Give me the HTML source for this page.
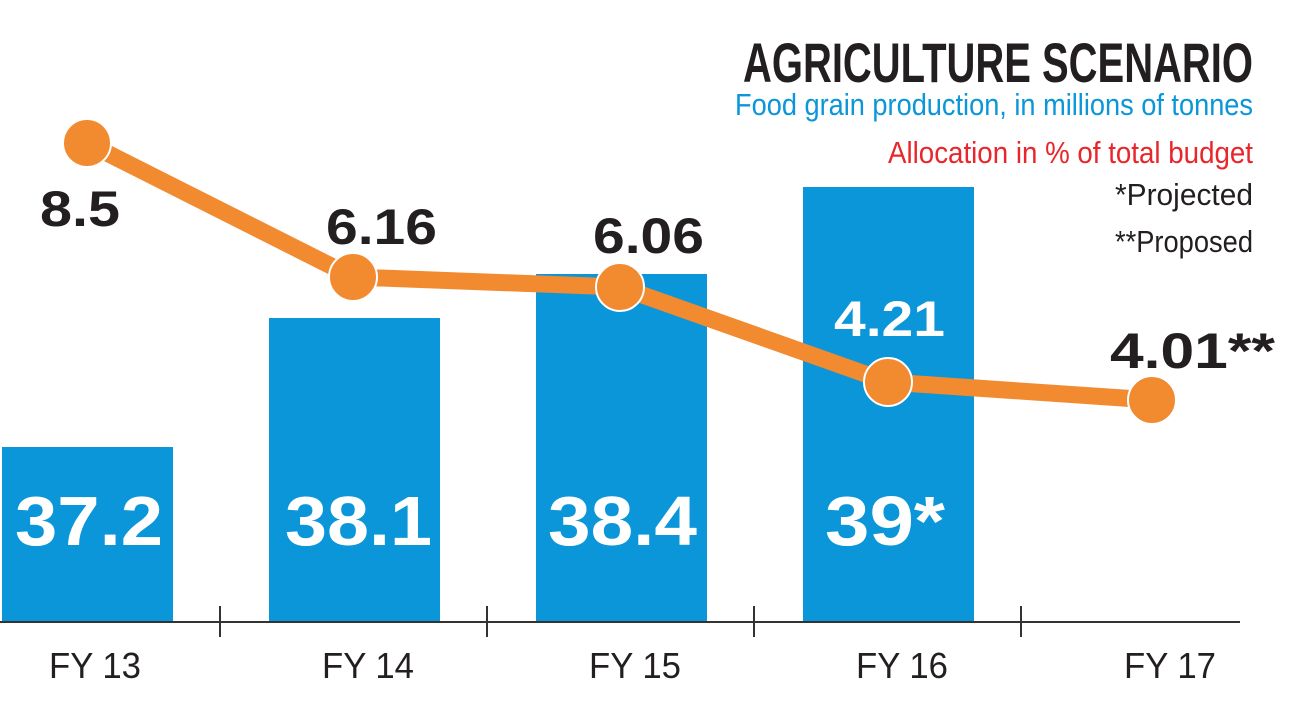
<!DOCTYPE html>
<html><head><meta charset="utf-8"><style>
html,body{margin:0;padding:0;background:#fff;}
svg{display:block;}
text{font-family:"Liberation Sans",sans-serif;}
</style></head><body>
<svg width="1300" height="719" viewBox="0 0 1300 719">
<rect width="1300" height="719" fill="#fff"/>
<g fill="#0a96d8">
<rect x="2" y="447" width="171" height="175"/>
<rect x="269" y="318" width="171" height="304"/>
<rect x="536" y="274" width="171" height="348"/>
<rect x="803" y="187" width="171" height="435"/>
</g>
<line x1="0" y1="622" x2="1240" y2="622" stroke="#333" stroke-width="2"/>
<g stroke="#333" stroke-width="2">
<line x1="220" y1="606" x2="220" y2="637"/>
<line x1="487" y1="606" x2="487" y2="637"/>
<line x1="754" y1="606" x2="754" y2="637"/>
<line x1="1021" y1="606" x2="1021" y2="637"/>
</g>
<g font-size="36" fill="#231f20" text-anchor="middle">
<text x="95" y="678" textLength="92" lengthAdjust="spacingAndGlyphs">FY 13</text>
<text x="368" y="678" textLength="92" lengthAdjust="spacingAndGlyphs">FY 14</text>
<text x="635" y="678" textLength="92" lengthAdjust="spacingAndGlyphs">FY 15</text>
<text x="902" y="678" textLength="92" lengthAdjust="spacingAndGlyphs">FY 16</text>
<text x="1170" y="678" textLength="92" lengthAdjust="spacingAndGlyphs">FY 17</text>
</g>
<g font-size="70" font-weight="bold" fill="#fff">
<text x="15" y="545" textLength="148" lengthAdjust="spacingAndGlyphs">37.2</text>
<text x="285" y="545" textLength="147" lengthAdjust="spacingAndGlyphs">38.1</text>
<text x="548" y="545" textLength="149" lengthAdjust="spacingAndGlyphs">38.4</text>
<text x="825" y="545" textLength="120" lengthAdjust="spacingAndGlyphs">39*</text>
</g>
<polyline points="87,143 353,277 620,287 888,382 1152,400" fill="none" stroke="#f28a30" stroke-width="17" stroke-linejoin="round"/>
<g fill="#f28a30" stroke="#fff" stroke-width="2">
<circle cx="87" cy="143" r="24"/>
<circle cx="353" cy="277" r="24"/>
<circle cx="620" cy="287" r="24"/>
<circle cx="888" cy="382" r="24"/>
<circle cx="1152" cy="400" r="24"/>
</g>
<g font-size="50" font-weight="bold" fill="#231f20">
<text x="40" y="226" textLength="80" lengthAdjust="spacingAndGlyphs">8.5</text>
<text x="326" y="244" textLength="111" lengthAdjust="spacingAndGlyphs">6.16</text>
<text x="593" y="253" textLength="111" lengthAdjust="spacingAndGlyphs">6.06</text>
<text x="1110" y="368" textLength="165" lengthAdjust="spacingAndGlyphs">4.01**</text>
</g>
<text x="834" y="336" font-size="50" font-weight="bold" fill="#fff" textLength="111" lengthAdjust="spacingAndGlyphs">4.21</text>
<text x="743" y="82" font-size="56" font-weight="bold" fill="#231f20" textLength="510" lengthAdjust="spacingAndGlyphs">AGRICULTURE SCENARIO</text>
<text x="735" y="115" font-size="31" fill="#0a96d8" textLength="518" lengthAdjust="spacingAndGlyphs">Food grain production, in millions of tonnes</text>
<text x="888" y="163" font-size="31" fill="#e8262b" textLength="365" lengthAdjust="spacingAndGlyphs">Allocation in % of total budget</text>
<text x="1115" y="205" font-size="31" fill="#231f20" textLength="138" lengthAdjust="spacingAndGlyphs">*Projected</text>
<text x="1115" y="252" font-size="31" fill="#231f20" textLength="138" lengthAdjust="spacingAndGlyphs">**Proposed</text>
</svg>
</body></html>
